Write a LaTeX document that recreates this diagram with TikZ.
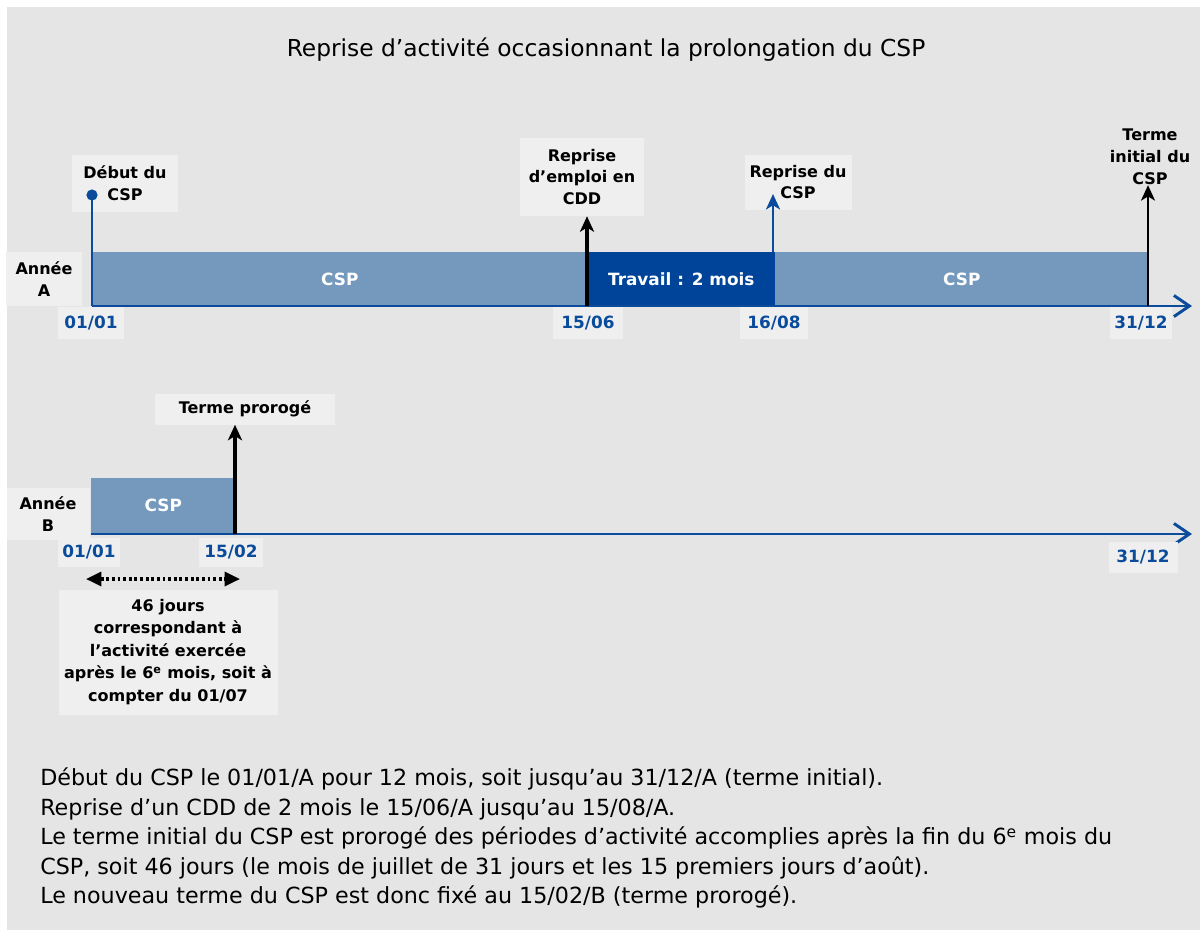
\documentclass[tikz,border=0pt]{standalone}
\usepackage{fontspec}
\setmainfont{DejaVu Sans}
\usetikzlibrary{arrows.meta,positioning}

\definecolor{panel}{HTML}{E5E5E5}
\definecolor{boxgray}{HTML}{EFEFEF}
\definecolor{csplight}{HTML}{7599BD}
\definecolor{workdark}{HTML}{00449A}
\definecolor{axisblue}{HTML}{0A4C9B}

\tikzset{
  lbl/.style={fill=boxgray,align=center,inner sep=0pt,
    font=\bfseries\fontsize{11.4}{15.6}\selectfont},
  datelbl/.style={fill=boxgray,text=axisblue,inner sep=0pt,minimum height=32*0.025cm,
    font=\bfseries\fontsize{12}{14}\selectfont},
  barcsp/.style={fill=csplight,text=white,anchor=north west,inner sep=0pt,
    font=\bfseries\fontsize{12}{14}\selectfont},
  axis/.style={draw=axisblue,line width=2.1pt,-{Straight Barb[length=11pt,width=15pt]}},
  blackarrow/.style={draw=black,line width=2.2pt,-{Stealth[length=11pt,width=10pt,inset=3pt]}}
}

\begin{document}
\begin{tikzpicture}[x=0.025cm,y=-0.025cm]
  \useasboundingbox (0,0) rectangle (1200,930);
  \fill[panel] (7,7) rectangle (1200,930);

  \node[font=\fontsize{16.6}{19}\selectfont] (titre) at (606,50)
    {Reprise d’activité occasionnant la prolongation du CSP};

  % année A
  \node[barcsp,minimum width=495*0.025cm,minimum height=54*0.025cm] (cspA1) at (92,252) {CSP};
  \node[barcsp,fill=workdark,minimum width=188*0.025cm,minimum height=54*0.025cm] (travail) at (587,252) {Travail : 2 mois};
  \node[barcsp,minimum width=373*0.025cm,minimum height=54*0.025cm] (cspA2) at (775,252) {CSP};
  \node[lbl,minimum width=76*0.025cm,minimum height=54*0.025cm] (anneeA) at (44,279) {Année\\A};

  \node[lbl,minimum width=106*0.025cm,minimum height=57*0.025cm] (debut) at (125,183) {Début du\\CSP};
  \node[lbl,minimum width=124*0.025cm,minimum height=78*0.025cm] (repEmploi) at (582,177) {Reprise\\d’emploi en\\CDD};
  \node[lbl,minimum width=107*0.025cm,minimum height=55*0.025cm] (repCsp) at (798,182) {Reprise du\\CSP};
  \node[lbl,fill=none] (termeInit) at (1150,157) {Terme\\initial du\\CSP};

  \coordinate (debA) at (92,306);
  \coordinate (finA) at (1192,306);
  \coordinate (d1506) at (587,306);
  \coordinate (d1608) at (773,252);
  \coordinate (d3112) at (1148,306);
  \coordinate (pointDebut) at (92,195);
  \draw[axis] (debA) -- (finA);
  \draw[axisblue,line width=2.1pt] (debA) -- (pointDebut);
  \fill[axisblue] (pointDebut) circle (0.14cm);

  \draw[blackarrow] (d1506) -- (d1506 |- repEmploi.south);
  \draw[blackarrow,draw=axisblue,line width=1.8pt] (d1608) -- (773,194);
  \draw[blackarrow,line width=1.5pt] (d3112) -- (d3112 |- termeInit.south);

  \node[datelbl,minimum width=66*0.025cm] (dA0101) at (91,323) {01/01};
  \node[datelbl,minimum width=70*0.025cm] (dA1506) at (588,323) {15/06};
  \node[datelbl,minimum width=68*0.025cm] (dA1608) at (774,323) {16/08};
  \node[datelbl,minimum width=62*0.025cm] (dA3112) at (1141,323) {31/12};

  % année B
  \node[barcsp,minimum width=144*0.025cm,minimum height=55*0.025cm] (cspB) at (91,478) {CSP};
  \node[lbl,minimum width=83*0.025cm,minimum height=52*0.025cm] (anneeB) at (48,514) {Année\\B};
  \coordinate (debB) at (91,534);
  \coordinate (finB) at (1192,534);
  \coordinate (d1502) at (235,534);
  \draw[axis] (debB) -- (finB);

  \node[lbl,minimum width=180*0.025cm,minimum height=31*0.025cm] (prorog) at (245,409) {Terme prorogé};
  \draw[blackarrow] (d1502) -- (d1502 |- prorog.south);

  \node[datelbl,minimum width=62*0.025cm,minimum height=29*0.025cm] (dB0101) at (89,552) {01/01};
  \node[datelbl,minimum width=64*0.025cm,minimum height=29*0.025cm] (dB1502) at (231,552) {15/02};
  \node[datelbl,minimum width=69*0.025cm,minimum height=31*0.025cm] (dB3112) at (1143,557) {31/12};

  \coordinate (fl0) at (86,579);
  \coordinate (fl1) at (240,579);
  \draw[line width=2.2pt,dash pattern=on 2pt off 2pt,
    {Triangle[length=11pt,width=10pt]}-{Triangle[length=11pt,width=10pt]}] (fl0) -- (fl1);
  \node[lbl,minimum width=219*0.025cm,minimum height=125*0.025cm,
    font=\bfseries\fontsize{11.4}{16}\selectfont] (jours) at (168,652)
    {46 jours\\correspondant à\\l’activité exercée\\après le 6\textsuperscript{e} mois, soit à\\compter du 01/07};

  % texte explicatif
  \node[anchor=west,align=left,inner sep=0pt,font=\fontsize{15.8}{21}\selectfont] (texte) at (40,838)
    {Début du CSP le 01/01/A pour 12 mois, soit jusqu’au 31/12/A (terme initial).\\
     Reprise d’un CDD de 2 mois le 15/06/A jusqu’au 15/08/A.\\
     Le terme initial du CSP est prorogé des périodes d’activité accomplies après la fin du 6\textsuperscript{e} mois du\\
     CSP, soit 46 jours (le mois de juillet de 31 jours et les 15 premiers jours d’août).\\
     Le nouveau terme du CSP est donc fixé au 15/02/B (terme prorogé).};
\end{tikzpicture}
\end{document}
